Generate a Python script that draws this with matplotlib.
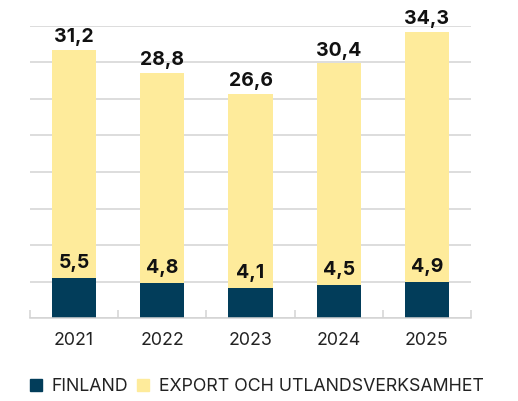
import matplotlib
matplotlib.use("Agg")
import matplotlib.pyplot as plt
from matplotlib.patches import Patch
import numpy as np

plt.rcParams['font.family'] = ['Inter', 'DejaVu Sans']

years = ["2021", "2022", "2023", "2024", "2025"]
finland = [5.5, 4.8, 4.1, 4.5, 4.9]
export = [31.2, 28.8, 26.6, 30.4, 34.3]

dark = "#023D5A"
yellow = "#FEEB9B"
grid_col = "#D3D3D3"

fig = plt.figure(figsize=(5.18, 4.01), dpi=100)
ax = fig.add_axes([30/518, 1 - 318.3/401, (471 - 30)/518, (318.3 - 25.7)/401])

x = np.arange(len(years))
ax.bar(x, finland, width=0.5, color=dark, zorder=3)
ax.bar(x, export, width=0.5, bottom=finland, color=yellow, zorder=3)

# value labels
for i in range(len(years)):
    ax.annotate(f"{finland[i]:.1f}".replace(".", ","), (x[i], finland[i]),
                xytext=(0, 4.5), textcoords="offset points", ha="center", va="bottom",
                fontsize=14, fontweight="bold", color="#111111", zorder=4)
    ax.annotate(f"{export[i]:.1f}".replace(".", ","), (x[i], finland[i] + export[i]),
                xytext=(0, 2.5), textcoords="offset points", ha="center", va="bottom",
                fontsize=14, fontweight="bold", color="#111111", zorder=4)

ax.set_xlim(-0.5, len(years) - 0.5)
ax.set_ylim(0, 40)
ax.set_yticks(np.arange(0, 41, 5))
ax.yaxis.grid(True, color=grid_col, linewidth=1.1, zorder=0)
ax.tick_params(axis="y", left=False, labelleft=False)

ax.set_xticks(x)
ax.set_xticklabels(years, fontsize=12.8, color="#222222")
ax.tick_params(axis="x", which="major", length=0, pad=10)
ax.set_xticks(np.arange(-0.5, len(years), 1), minor=True)
ax.tick_params(axis="x", which="minor", direction="in", length=5.5, color=grid_col, width=1.1)

for s in ["top", "right", "left"]:
    ax.spines[s].set_visible(False)
ax.spines["bottom"].set_color(grid_col)
ax.spines["bottom"].set_linewidth(1.1)
ax.spines["bottom"].set_zorder(4)

handles = [Patch(color=dark, label="FINLAND"),
           Patch(color=yellow, label="EXPORT OCH UTLANDSVERKSAMHET")]
fig.legend(handles=handles, loc="center left", bbox_to_anchor=(30/518, 1 - 386.7/401),
           ncol=2, frameon=False, fontsize=12.8, handlelength=0.68, handleheight=0.68,
           handletextpad=0.55, columnspacing=0.5, borderpad=0, borderaxespad=0,
           labelcolor="#222222")

fig.savefig("out.png", dpi=100)
